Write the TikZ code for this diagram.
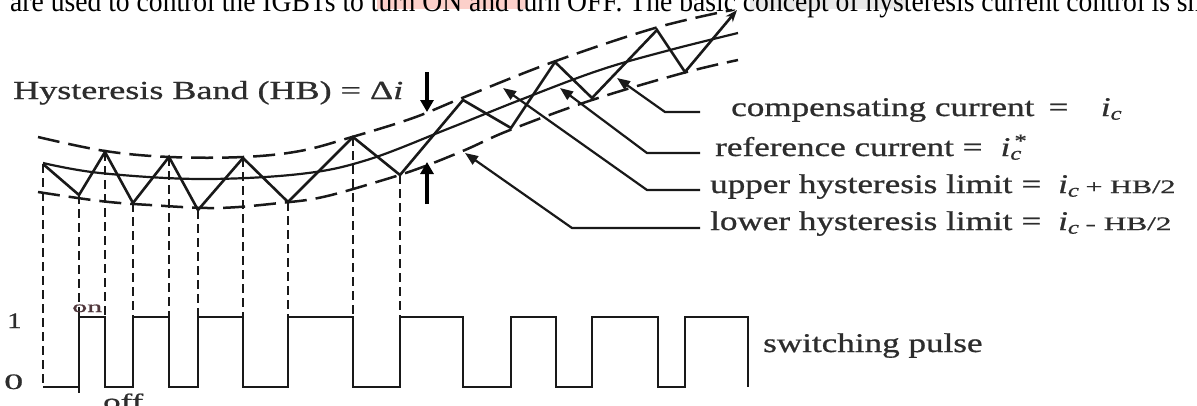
\documentclass[tikz,border=0pt]{standalone}
\usepackage{fontspec}
\usepackage{graphicx}
\setmainfont{Liberation Serif}
\newfontfamily\heavyserif[FakeBold=0.7]{Liberation Serif}
\usetikzlibrary{arrows.meta}
\definecolor{ink}{RGB}{25,25,25}
\definecolor{txt}{RGB}{45,45,45}
\definecolor{hlpink}{RGB}{252,208,202}
\definecolor{hlgray}{RGB}{232,232,232}
\definecolor{onbrown}{RGB}{80,55,60}
\newcommand{\wtxt}[1]{\scalebox{1.3}[1]{\heavyserif\fontsize{27}{32}\selectfont #1}}
\begin{document}
\begin{tikzpicture}[x=1pt,y=-1pt,
  lbl/.style={anchor=base west,inner sep=0pt,text=txt},
  band/.style={draw=ink,line width=2.5pt,dash pattern=on 22pt off 9pt},
  refc/.style={draw=ink,line width=2.2pt},
  zig/.style={draw=ink,line width=2.6pt,line join=miter},
  vdash/.style={draw=ink,line width=2.4pt,dash pattern=on 9pt off 5pt},
  pulse/.style={draw=ink,line width=2.6pt,line join=miter},
  leader/.style={draw=ink,line width=2.2pt,{Triangle[length=13pt,width=10pt]}-},
  bigarrow/.style={draw=black,line width=4.5pt,-{Triangle[length=12pt,width=13pt]}}]
\useasboundingbox (0,0) rectangle (1197,405);
\fill[white] (0,0) rectangle (1197,405);
\begin{scope}
\clip (0,0) rectangle (1197,405);
% top text line (cut)
\fill[hlpink] (377,0) rectangle (527,9);
\fill[hlgray] (750,0) rectangle (905,9);
\node[lbl,text=black] (toptext) at (10,11.5) {\resizebox{1205pt}{\height}{\fontsize{30}{34}\selectfont are used to control the IGBTs to turn ON and turn OFF. The basic concept of hysteresis current control is sho}};

% hysteresis band curves
\draw[band] plot[smooth,tension=0.6] coordinates {(38,137) (105,151) (170,157) (243,157) (300,151) (352,137) (413,118) (462,98) (553,62) (655,28) (732,10)};
\draw[refc] plot[smooth,tension=0.6] coordinates {(43,163) (100,173) (200,179) (300,174) (367,160) (450,128) (520,100) (600,70) (670,50) (738,33)};
\draw[band] plot[smooth,tension=0.6] coordinates {(38,192) (100,201) (150,205) (217,208) (280,203) (323,197) (380,181) (420,168) (465,150) (510,130) (592,100) (683,73) (738,60)};

% zigzag vertices
\coordinate (z0) at (43,164);
\coordinate (z1) at (79,195);
\coordinate (z2) at (105,152);
\coordinate (z3) at (133,203);
\coordinate (z4) at (169,157);
\coordinate (z5) at (198,210);
\coordinate (z6) at (243,158);
\coordinate (z7) at (288,202);
\coordinate (z8) at (353,137);
\coordinate (z9) at (400,175);
\coordinate (z10) at (463,100);
\coordinate (z11) at (511,128);
\coordinate (z12) at (555,62);
\coordinate (z13) at (592,98);
\coordinate (z14) at (657,30);
\coordinate (z15) at (685,72);
\coordinate (z16) at (737,10);
\coordinate (lowlevel) at (0,387);
\coordinate (highlevel) at (0,317);

% dashed projections
\foreach \k in {0,...,9} \draw[vdash] (z\k) -- (z\k |- lowlevel);

\draw[zig,-{Stealth[length=12pt,width=9pt]}] (z0) -- (z1) -- (z2) -- (z3) -- (z4) -- (z5) -- (z6) -- (z7) -- (z8) -- (z9) -- (z10) -- (z11) -- (z12) -- (z13) -- (z14) -- (z15) -- (z16);

% switching pulse
\draw[pulse] (43,387) -- (79,387) -- (79,317) -- (105,317) -- (105,387) -- (133,387) -- (133,317) -- (169,317) -- (169,387) -- (198,387) -- (198,317) -- (243,317) -- (243,387) -- (288,387) -- (288,317) -- (353,317) -- (353,387) -- (400,387) -- (400,317) -- (463,317) -- (463,387) -- (511,387) -- (511,317) -- (556,317) -- (556,387) -- (592,387) -- (592,317) -- (658,317) -- (658,387) -- (685,387) -- (685,317) -- (748,317) -- (748,387);
\draw[pulse] (79,387) -- (79,393);

% band arrows
\coordinate (dnA) at (427,72);
\coordinate (dnB) at (427,112);
\coordinate (upA) at (427,204);
\coordinate (upB) at (427,162);
\draw[bigarrow] (dnA) -- (dnB);
\draw[bigarrow] (upA) -- (upB);

% labels
\node[lbl] (hb) at (13,99) {\resizebox{390pt}{\height}{\heavyserif\fontsize{26}{30}\selectfont Hysteresis Band (HB) = Δ\textit{i}}};

\node[lbl] (comp) at (731,116) {\wtxt{compensating current\hspace{11pt}=\hspace{25pt}\textit{i}\textsubscript{\textit{c}}}};
\node[lbl] (refl) at (715,156) {\wtxt{reference current =\hspace{14pt}\textit{i}\rlap{\textsuperscript{\,*}}\textsubscript{\textit{c}}}};
\node[lbl] (upl) at (710,193) {\wtxt{upper hysteresis limit\hspace{7pt}=\hspace{13pt}\textit{i}\textsubscript{\textit{c}}}\hspace{6pt}\resizebox{90pt}{\height}{\heavyserif\fontsize{19}{21}\selectfont + HB/2}};
\node[lbl] (lowl) at (710,230) {\wtxt{lower hysteresis limit\hspace{7pt}=\hspace{13pt}\textit{i}\textsubscript{\textit{c}}}\hspace{6pt}\resizebox{86pt}{\height}{\heavyserif\fontsize{19}{21}\selectfont - HB/2}};
\node[lbl] (sw) at (763,352) {\wtxt{switching pulse}};

\node[lbl] (one) at (7,328) {\scalebox{1.3}[1]{\heavyserif\fontsize{22}{24}\selectfont 1}};
\node[lbl] (zero) at (4,389) {\resizebox{19pt}{\height}{\heavyserif\fontsize{22}{24}\selectfont 0}};
\node[lbl,text=onbrown] (on) at (72,312) {\resizebox{30pt}{\height}{\heavyserif\fontsize{16}{18}\selectfont on}};
\node[lbl] (off) at (103,409) {\resizebox{40pt}{\height}{\heavyserif\fontsize{22}{24}\selectfont off}};

% leaders
\coordinate (tipC) at (617,78);
\coordinate (bendC) at (665,112);
\coordinate (endC) at (700,112);
\coordinate (tipR) at (560,88);
\coordinate (bendR) at (647,153);
\coordinate (endR) at (700,153);
\coordinate (tipU) at (503,88);
\coordinate (bendU) at (647,190);
\coordinate (endU) at (700,190);
\coordinate (tipL) at (465,153);
\coordinate (bendL) at (572,228);
\coordinate (endL) at (700,228);
\draw[leader] (tipC) -- (bendC) -- (endC);
\draw[leader] (tipR) -- (bendR) -- (endR);
\draw[leader] (tipU) -- (bendU) -- (endU);
\draw[leader] (tipL) -- (bendL) -- (endL);
\end{scope}
\end{tikzpicture}
\end{document}
